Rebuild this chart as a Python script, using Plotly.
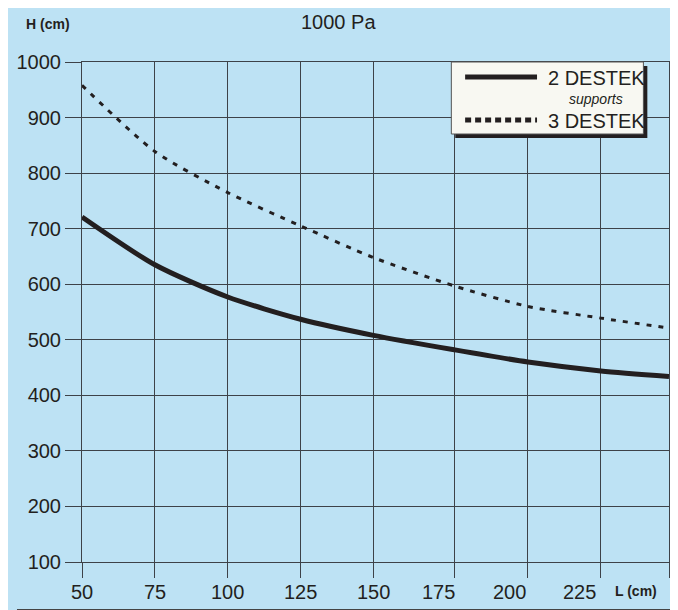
import plotly.graph_objects as go

# curve heights read where the curves cross the vertical grid lines
L = [50, 75, 100, 125, 150, 177.7, 203, 228, 251.4]
h_2destek = [721, 635, 577, 537, 508, 482, 460, 444, 434]
h_3destek = [958, 839, 765, 705, 648, 597, 560, 539, 521]

# vertical grid lines (the last one is the right edge of the frame)
x_grid = [50, 75, 100, 125, 150, 177.7, 203, 228, 251.4]
# tick labels sit a little left of the last grid lines, as in the original
x_label_pos = [50, 75, 100, 125, 150, 172.3, 196.6, 220.6]
x_labels = ["50", "75", "100", "125", "150", "175", "200", "225"]
y_ticks = [100, 200, 300, 400, 500, 600, 700, 800, 900, 1000]

ink = "#231f20"
grid = "#3d4248"
bg = "#bde2f4"
font = "Liberation Sans, Arial, sans-serif"

# the page body adds an 8px offset, so the figure is 8px smaller and
# every target pixel (measured in the window) is shifted by OFF
OFF = 8
W, H = 678 - OFF, 610 - OFF
L0, R0, T0, B0 = 74 - OFF, 670 - OFF, 62 - OFF, 562 - OFF
PW, PH = R0 - L0, B0 - T0


def px(x):
    return (x - OFF - L0) / PW


def py(y):
    return 1 - (y - OFF - T0) / PH


def note(text, x, y, size, xanchor="center"):
    return dict(text=text, x=px(x), y=py(y), xref="paper", yref="paper", showarrow=False,
                xanchor=xanchor, yanchor="middle", font=dict(size=size, color=ink, family=font))


fig = go.Figure()
fig.add_trace(go.Scatter(x=L, y=h_2destek, mode="lines", name="2 DESTEK",
                         line=dict(color=ink, width=5, shape="spline", smoothing=0.7)))
fig.add_trace(go.Scatter(x=L, y=h_3destek, mode="lines", name="3 DESTEK",
                         line=dict(color=ink, width=3, dash="5px,7px", shape="spline", smoothing=0.7)))

shapes = [
    # outer frame of the picture (right and bottom edges)
    dict(type="line", xref="paper", yref="paper", x0=px(677.5), x1=px(677.5), y0=py(609.5), y1=py(8),
         line=dict(color="#444", width=1)),
    dict(type="line", xref="paper", yref="paper", x0=px(8), x1=px(677.5), y0=py(609.5), y1=py(609.5),
         line=dict(color="#444", width=1)),
    # legend shadow + box
    dict(type="rect", xref="paper", yref="paper", x0=px(453), x1=px(648), y0=py(138), y1=py(66),
         fillcolor=ink, line=dict(width=0)),
    dict(type="rect", xref="paper", yref="paper", x0=px(449), x1=px(644), y0=py(134), y1=py(62),
         fillcolor="#f8f8f2", line=dict(color="#555", width=1)),
    dict(type="line", xref="paper", yref="paper", x0=px(463), x1=px(536), y0=py(77), y1=py(77),
         line=dict(color=ink, width=5)),
    dict(type="line", xref="paper", yref="paper", x0=px(463), x1=px(536), y0=py(120), y1=py(120),
         line=dict(color=ink, width=5, dash="6px,4px")),
]

annotations = [
    note("1000 Pa", 334, 22, 20),
    note("<b>H (cm)</b>", 39, 24, 14),
    note("<b>L (cm)</b>", 636, 591, 14),
    note("2 DESTEK", 545, 78, 20, "left"),
    note("<i>supports</i>", 596, 99, 14),
    note("3 DESTEK", 545, 121, 20, "left"),
]
for pos, lab in zip(x_label_pos, x_labels):
    annotations.append(dict(text=lab, x=pos, y=py(592), xref="x", yref="paper", showarrow=False,
                            xanchor="center", yanchor="middle",
                            font=dict(size=20, color=ink, family=font)))

fig.update_layout(
    width=W, height=H,
    margin=dict(l=L0, r=W - R0, t=T0, b=H - B0),
    paper_bgcolor=bg, plot_bgcolor=bg,
    showlegend=False,
    shapes=shapes, annotations=annotations,
    font=dict(family=font, color=ink, size=20),
)
fig.update_xaxes(range=[50, 251.4], tickmode="array", tickvals=x_grid, showticklabels=False,
                 showgrid=True, gridcolor=grid, gridwidth=1,
                 showline=True, linecolor=grid, mirror=True,
                 ticks="outside", ticklen=15, tickcolor=grid, zeroline=False)
fig.update_yaxes(range=[100, 1000], tickmode="array", tickvals=y_ticks,
                 showgrid=True, gridcolor=grid, gridwidth=1,
                 showline=True, linecolor=grid, mirror=True,
                 ticks="outside", ticklen=16, tickcolor=grid, zeroline=False,
                 tickfont=dict(size=20, color=ink))

fig.write_html("out.html")
